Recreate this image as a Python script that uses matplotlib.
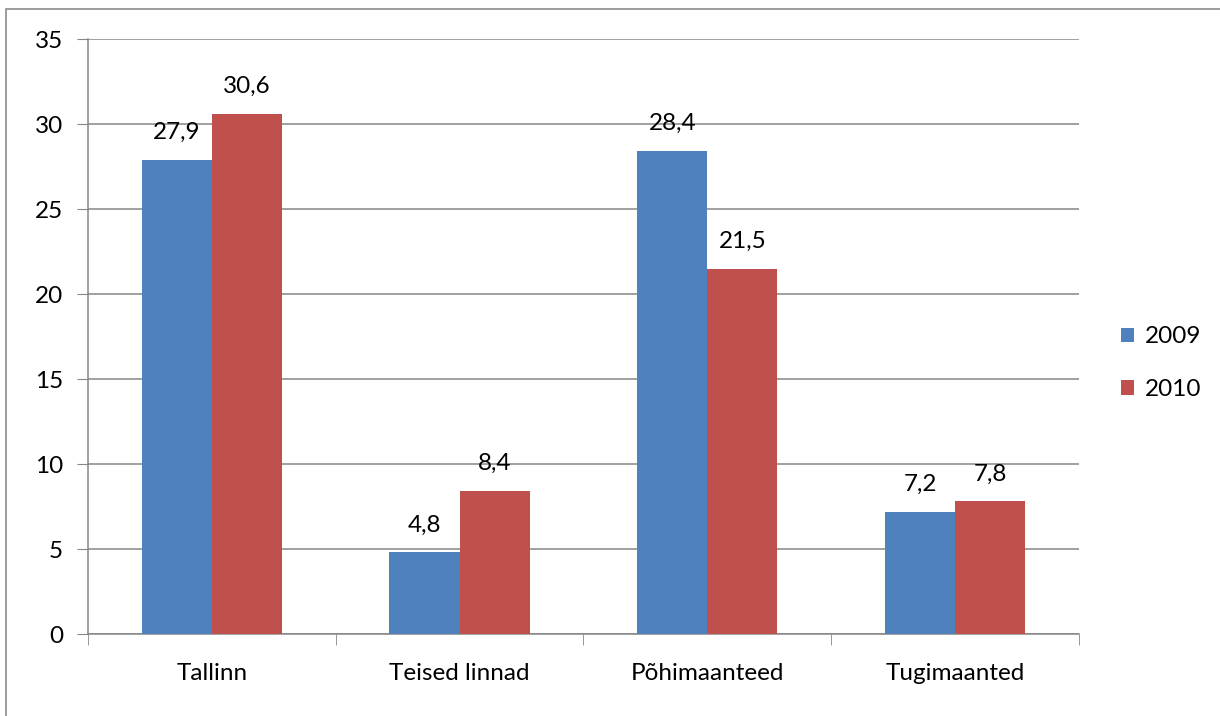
import matplotlib.pyplot as plt
import matplotlib.patches as mpatches
import numpy as np

categories = ['Tallinn', 'Teised linnad', 'Põhimaanteed', 'Tugimaanted']
years = ['2009', '2010']
v2009 = [27.9, 4.8, 28.4, 7.2]
v2010 = [30.6, 8.4, 21.5, 7.8]

plt.rcParams['font.family'] = ['Lato', 'DejaVu Sans']
fs = 17.5

fig = plt.figure(figsize=(12.2, 7.16), dpi=100)
ax = fig.add_axes([0.0721, 0.1145, 0.8123, 0.831])

# outer chart border (only left/top visible in original)
fig.patches.append(mpatches.Rectangle((6 / 1220, -0.1), 1.2, 1.1 - 9 / 716,
                                      transform=fig.transFigure, fill=False,
                                      edgecolor='#8c8c8c', lw=1.2))

x = np.arange(len(categories))
w = 0.283
b1 = ax.bar(x - w / 2, v2009, w, color='#4f81bd', label=years[0], zorder=3)
b2 = ax.bar(x + w / 2, v2010, w, color='#c0504d', label=years[1], zorder=3)

for bars, vals in ((b1, v2009), (b2, v2010)):
    for r, v in zip(bars, vals):
        ax.text(r.get_x() + r.get_width() / 2, v + 1.0, f'{v:.1f}'.replace('.', ','),
                ha='center', va='bottom', fontsize=fs)

ax.set_xlim(-0.5, len(categories) - 0.5)
ax.set_ylim(0, 35)
ax.set_yticks(range(0, 36, 5))
ax.yaxis.grid(True, color='#868686', lw=1.1, zorder=0)
ax.tick_params(axis='y', length=8, color='#868686', labelsize=fs, pad=10)
ax.set_xticks(x)
ax.set_xticklabels(categories, fontsize=fs)
ax.tick_params(axis='x', length=0, pad=21)
ax.set_xticks(np.arange(-0.5, len(categories)), minor=True)
ax.tick_params(axis='x', which='minor', length=8, color='#868686')
for s in ['top', 'right']:
    ax.spines[s].set_visible(False)
for s in ['left', 'bottom']:
    ax.spines[s].set_color('#868686')
    ax.spines[s].set_linewidth(1.1)

ax.legend(loc='center left', bbox_to_anchor=(1.02, 0.455), frameon=False,
          fontsize=fs, handlelength=0.55, handleheight=0.55, labelspacing=1.3,
          handletextpad=0.45)

fig.savefig('out.png', dpi=100)
